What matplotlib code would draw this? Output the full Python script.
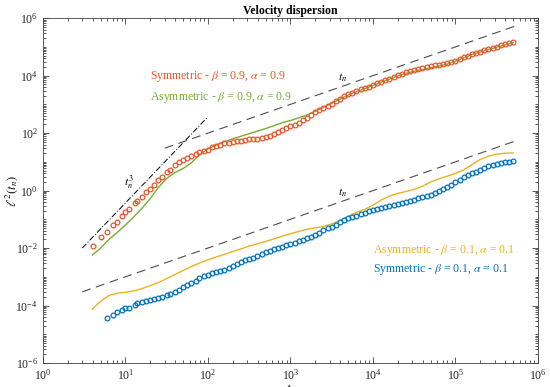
import numpy as np
import matplotlib
matplotlib.use("Agg")
import matplotlib.pyplot as plt
from matplotlib.ticker import LogLocator, NullFormatter

plt.rcParams["font.family"] = ["Liberation Serif", "DejaVu Serif"]
plt.rcParams["mathtext.fontset"] = "stix"

# marker sample times (discrete t_n)
t_marks = [4, 5, 6, 7, 8, 9, 10, 11, 13, 14, 16, 18, 20, 22, 25, 28, 32, 35, 40, 45, 50, 56, 63, 71, 79, 89,
           100, 112, 126, 141, 158, 178, 200, 224, 251, 282, 316, 355, 398, 447, 501, 562, 631, 708, 794, 891,
           1000, 1122, 1259, 1413, 1585, 1778, 1995, 2239, 2512, 2818, 3162, 3548, 3981, 4467, 5012, 5623,
           6310, 7079, 7943, 8913,
           10000, 11220, 12589, 14125, 15849, 17783, 19953, 22387, 25119, 28184, 31623, 35481, 39811, 44668,
           50119, 56234, 63096, 70795, 79433, 89125,
           100000, 112202, 125893, 141254, 158489, 177828, 199526, 223872, 251189, 281838, 316228, 354813,
           398107, 446684, 501187]

# log10 of l^2, symmetric beta=0.9 (circles, from t=4)
sym09_log = [-1.94, -1.63, -1.45, -1.19, -1.08, -0.90, -0.75, -0.64, -0.43, -0.35, -0.21, -0.05, 0.06, 0.19,
             0.36, 0.48, 0.64, 0.72, 0.89, 0.99, 1.06, 1.12, 1.19, 1.27, 1.33, 1.37,
             1.42, 1.50, 1.55, 1.60, 1.64, 1.67, 1.70, 1.72, 1.74, 1.76, 1.78, 1.79, 1.81, 1.84, 1.87, 1.91,
             1.96, 2.03, 2.10, 2.17,
             2.24, 2.30, 2.36, 2.44, 2.53, 2.62, 2.72, 2.81, 2.89, 2.96, 3.03, 3.12, 3.20, 3.28, 3.35, 3.41,
             3.46, 3.52, 3.57, 3.62,
             3.68, 3.74, 3.79, 3.85, 3.90, 3.96, 4.01, 4.07, 4.12, 4.16, 4.20, 4.24, 4.28, 4.31, 4.34, 4.36,
             4.38, 4.41, 4.43, 4.47,
             4.52, 4.58, 4.64, 4.70, 4.75, 4.80, 4.84, 4.88, 4.92, 4.96, 5.00, 5.05, 5.09, 5.13, 5.16]

# log10 of l^2, symmetric beta=0.1 (circles, from t=6)
sym01_log = [-4.44, -4.32, -4.23, -4.15, -4.09, -4.08, -3.97, -3.92, -3.88, -3.83, -3.80, -3.77, -3.74,
             -3.70, -3.64, -3.61, -3.53, -3.45, -3.37, -3.28, -3.22, -3.14, -3.05, -2.98,
             -2.92, -2.88, -2.84, -2.80, -2.75, -2.69, -2.62, -2.55, -2.48, -2.43, -2.39, -2.34, -2.27, -2.20,
             -2.14, -2.09, -2.04, -1.99, -1.95, -1.90,
             -1.86, -1.81, -1.76, -1.71, -1.66, -1.61, -1.54, -1.46, -1.38, -1.31, -1.25, -1.18, -1.10, -1.03,
             -0.97, -0.92, -0.87, -0.82, -0.77, -0.72,
             -0.67, -0.63, -0.60, -0.56, -0.52, -0.49, -0.45, -0.42, -0.38, -0.35, -0.31, -0.27, -0.23, -0.19,
             -0.15, -0.08, -0.01, 0.06, 0.13, 0.21,
             0.29, 0.38, 0.46, 0.53, 0.60, 0.66, 0.72, 0.78, 0.84, 0.88, 0.92, 0.95, 0.98, 1.00, 1.02]

# continuous curves (log10 t)
line_lt = [0.6, 0.7, 0.8, 0.9, 1.0, 1.1, 1.2, 1.3, 1.4, 1.5, 1.6, 1.7, 1.8, 1.9, 2.0, 2.1, 2.2, 2.3, 2.4, 2.5,
           2.6, 2.7, 2.8, 2.9, 3.0, 3.1, 3.2, 3.3, 3.4, 3.5, 3.6, 3.7, 3.8, 3.9, 4.0, 4.1, 4.2, 4.3, 4.4, 4.5,
           4.6, 4.7, 4.8, 4.9, 5.0, 5.1, 5.2, 5.3, 5.4, 5.5, 5.6, 5.7]
asym09_log = [-2.24, -2.00, -1.70, -1.46, -1.20, -0.92, -0.62, -0.28, 0.11, 0.42, 0.63, 0.77, 0.97, 1.25,
              1.45, 1.58, 1.70, 1.80, 1.89, 1.98, 2.07, 2.16, 2.26, 2.36, 2.44, 2.53, 2.63, 2.76, 2.90, 3.04,
              3.18, 3.32, 3.44, 3.55, 3.66, 3.77, 3.88, 3.99, 4.08, 4.15, 4.21, 4.27, 4.33, 4.40, 4.50, 4.62,
              4.73, 4.82, 4.91, 4.99, 5.07, 5.15]
asym01_log = [-4.12, -3.85, -3.65, -3.57, -3.54, -3.49, -3.41, -3.31, -3.20, -3.06, -2.92, -2.78, -2.64,
              -2.52, -2.41, -2.31, -2.22, -2.12, -2.03, -1.93, -1.85, -1.77, -1.68, -1.59, -1.50, -1.42,
              -1.35, -1.30, -1.25, -1.16, -1.04, -0.90, -0.76, -0.65, -0.51, -0.33, -0.19, -0.10, -0.03,
              0.04, 0.15, 0.30, 0.41, 0.50, 0.60, 0.72, 0.90, 1.08, 1.20, 1.27, 1.30, 1.31]

# guide lines (end points)
t3_t, t3_y = [3, 100], [0.01, 370]
tn_hi_t, tn_hi_y = [30, 5.2e5], [30, 5.2e5]
tn_lo_t, tn_lo_y = [3, 5.2e5], [3e-4, 52]

c_red = "#E8552A"
c_green = "#77AC30"
c_orange = "#EDB120"
c_blue = "#0072BD"
c_dash = "#4d4d4d"

fig = plt.figure(figsize=(5.5, 3.87), dpi=100)
ax = fig.add_axes([0.078, 0.062, 0.9, 0.891])

ax.plot(t3_t, t3_y, linestyle=(0, (6, 2, 1, 2)), color="black", lw=0.7)
ax.plot(tn_hi_t, tn_hi_y, linestyle=(0, (8, 5)), color=c_dash, lw=0.8)
ax.plot(tn_lo_t, tn_lo_y, linestyle=(0, (8, 5)), color=c_dash, lw=0.8)

t_line = 10 ** np.array(line_lt)
ax.plot(t_line, 10 ** np.array(asym09_log), color=c_green, lw=1.0)
ax.plot(t_line, 10 ** np.array(asym01_log), color=c_orange, lw=1.0)

ax.plot(t_marks, 10 ** np.array(sym09_log), "o", mfc="none", mec=c_red, ms=3.4, mew=0.9)
ax.plot(t_marks[2:], 10 ** np.array(sym01_log), "o", mfc="none", mec=c_blue, ms=3.4, mew=0.9)

fs = 8.5
ax.text(20, 9300, r"Symmetric - $\beta$ = 0.9, $\alpha$ = 0.9", color=c_red, fontsize=fs, va="center")
ax.text(20, 1700, r"Asymmetric - $\beta$ = 0.9, $\alpha$ = 0.9", color=c_green, fontsize=fs, va="center")
ax.text(1e4, 0.0081, r"Asymmetric - $\beta$ = 0.1, $\alpha$ = 0.1", color=c_orange, fontsize=fs, va="center")
ax.text(1e4, 0.0018, r"Symmetric - $\beta$ = 0.1, $\alpha$ = 0.1", color=c_blue, fontsize=fs, va="center")
ax.text(11, 1.9, r"$t_n^3$", fontsize=fs, ha="center", va="center")
ax.text(4350, 8500, r"$t_n$", fontsize=fs, ha="center", va="center")
ax.text(4350, 0.85, r"$t_n$", fontsize=fs, ha="center", va="center")

ax.set_xscale("log")
ax.set_yscale("log")
ax.set_xlim(1, 1e6)
ax.set_ylim(1e-6, 1e6)
ax.set_xticks([10.0 ** k for k in range(0, 7)])
ax.set_yticks([10.0 ** k for k in range(-6, 7, 2)])
ax.xaxis.set_minor_locator(LogLocator(base=10, subs=np.arange(2, 10), numticks=50))
ax.yaxis.set_minor_locator(LogLocator(base=10, subs=np.arange(1, 10), numticks=50))
ax.xaxis.set_minor_formatter(NullFormatter())
ax.yaxis.set_minor_formatter(NullFormatter())
ax.tick_params(which="both", direction="in", top=True, right=True, colors="#404040",
               labelcolor="#262626", labelsize=8.5, width=0.6)
ax.tick_params(which="major", length=4)
ax.tick_params(which="minor", length=2)
for s in ax.spines.values():
    s.set_color("#404040")
    s.set_linewidth(0.6)

ax.set_title("Velocity dispersion", fontsize=8.5, fontweight="bold", pad=3)
ax.set_ylabel(r"$\ell^2(t_n)$", fontsize=9)
ax.yaxis.set_label_coords(-0.046, 0.5)
ax.set_xlabel(r"$t_n$", fontsize=9)
ax.xaxis.set_label_coords(0.5, -0.055)
ax.xaxis.label.set_va("top")

fig.savefig("out.png", dpi=100)
